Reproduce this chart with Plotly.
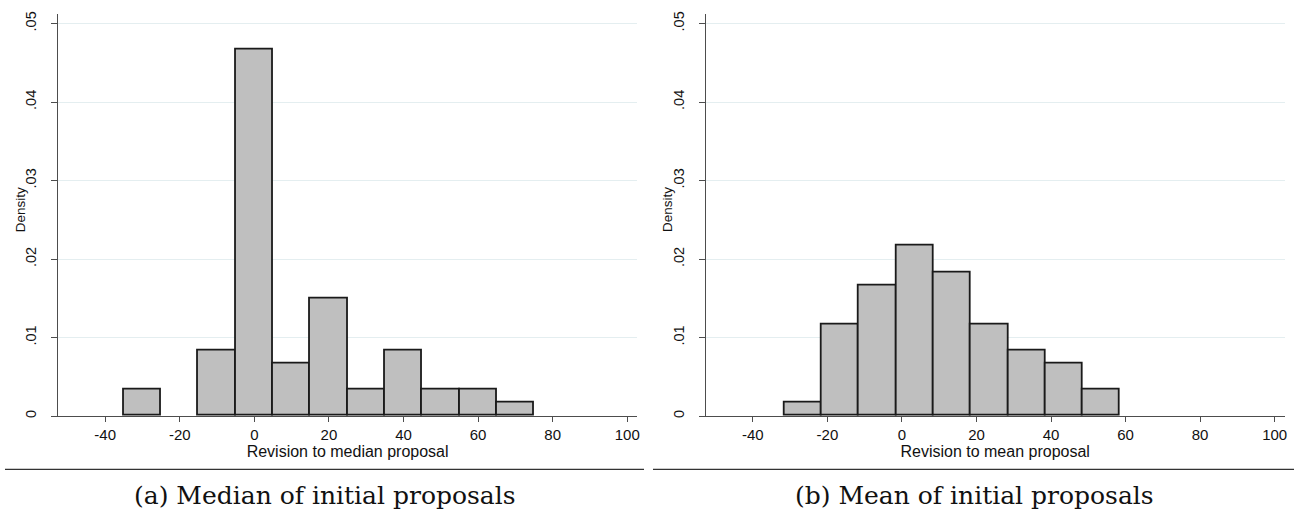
import plotly.graph_objects as go

W, H = 1300, 521

# Data
bin_width = 10
median_bin_left = [-35, -15, -5, 5, 15, 25, 35, 45, 55, 65]
median_density = [0.00333, 0.00833, 0.04667, 0.00667, 0.0150, 0.00333, 0.00833, 0.00333, 0.00333, 0.00167]

mean_bin_left = [-31.5, -21.5, -11.5, -1.5, 8.5, 18.5, 28.5, 38.5, 48.5]
mean_density = [0.00167, 0.01167, 0.01667, 0.02167, 0.01833, 0.01167, 0.00833, 0.00667, 0.00333]

x_ticks = [-40, -20, 0, 20, 40, 60, 80, 100]
x_tick_labels = ["-40", "-20", "0", "20", "40", "60", "80", "100"]
y_ticks = [0, 0.01, 0.02, 0.03, 0.04, 0.05]
y_tick_labels = ["0", ".01", ".02", ".03", ".04", ".05"]

x_titles = ["Revision to median proposal", "Revision to mean proposal"]
y_title = "Density"
captions = ["(a) Median of initial proposals", "(b) Mean of initial proposals"]

# Layout geometry (pixels)
plot_top, plot_bottom = 11.7, 417.3
left_dom = (58, 638.3)
right_dom = (706.7, 1286.7)
x_range = [-52.67, 102.7]
y_range = [0, 0.05126]

fig = go.Figure()

bar_fill = "#bfbfbf"
bar_line = "#1a1a1a"

for lefts, dens, xa, ya in [(median_bin_left, median_density, "x", "y"),
                            (mean_bin_left, mean_density, "x2", "y2")]:
    fig.add_trace(go.Bar(
        x=[l + bin_width / 2 for l in lefts], y=dens, width=bin_width,
        marker=dict(color=bar_fill, line=dict(color=bar_line, width=1.8)),
        xaxis=xa, yaxis=ya, showlegend=False, hoverinfo="x+y",
    ))

sans = "Liberation Sans, Arial, sans-serif"
txt_color = "#111111"
axis_color = "#4d4d4d"
grid_color = "#e4eef0"

def xaxis(dom, anchor, title):
    return dict(
        domain=[dom[0] / W, dom[1] / W], anchor=anchor, range=x_range,
        tickvals=x_ticks, ticktext=x_tick_labels,
        ticks="outside", ticklen=5, tickwidth=1, tickcolor=axis_color,
        showline=True, linecolor=axis_color, linewidth=1.2, showgrid=False, zeroline=False,
        tickfont=dict(family=sans, size=15, color=txt_color),
        title=dict(text=title, font=dict(family=sans, size=16, color=txt_color), standoff=0),
    )

def yaxis(anchor):
    return dict(
        domain=[(H - plot_bottom) / H, (H - plot_top) / H], anchor=anchor, range=y_range,
        tickvals=y_ticks, ticktext=y_tick_labels, tickangle=-90,
        ticks="outside", ticklen=6, tickwidth=1, tickcolor=axis_color,
        showline=True, linecolor=axis_color, linewidth=1.2,
        showgrid=True, gridcolor=grid_color, gridwidth=1, zeroline=False,
        tickfont=dict(family=sans, size=14.5, color=txt_color),
        ticklabelstandoff=9,
    )

fig.update_layout(
    width=W, height=H, margin=dict(l=0, r=0, t=0, b=0),
    paper_bgcolor="white", plot_bgcolor="white",
    xaxis=xaxis(left_dom, "y", x_titles[0]),
    yaxis=yaxis("x"),
    xaxis2=xaxis(right_dom, "y2", x_titles[1]),
    yaxis2=yaxis("x2"),
    bargap=0,
)

# y-axis titles (placed close to tick labels as in the original)
for dom in (left_dom, right_dom):
    fig.add_annotation(text=y_title, xref="paper", yref="paper",
                       x=(dom[0] - 38) / W, y=(H - 209) / H, textangle=-90,
                       xanchor="center", yanchor="middle", showarrow=False,
                       font=dict(family=sans, size=13.5, color=txt_color))

# separators and captions
for (x0, x1), cx, cap in [((5, 645), 325, captions[0]), ((654, 1296), 976, captions[1])]:
    fig.add_shape(type="line", xref="paper", yref="paper",
                  x0=x0 / W, x1=x1 / W, y0=(H - 471) / H, y1=(H - 471) / H,
                  line=dict(color="#333333", width=1.3))
    fig.add_annotation(text=cap, xref="paper", yref="paper", x=cx / W, y=(H - 497) / H,
                       xanchor="center", yanchor="middle", showarrow=False,
                       font=dict(family="DejaVu Serif, serif", size=25, color="#111111"))

fig.write_html("out.html")
